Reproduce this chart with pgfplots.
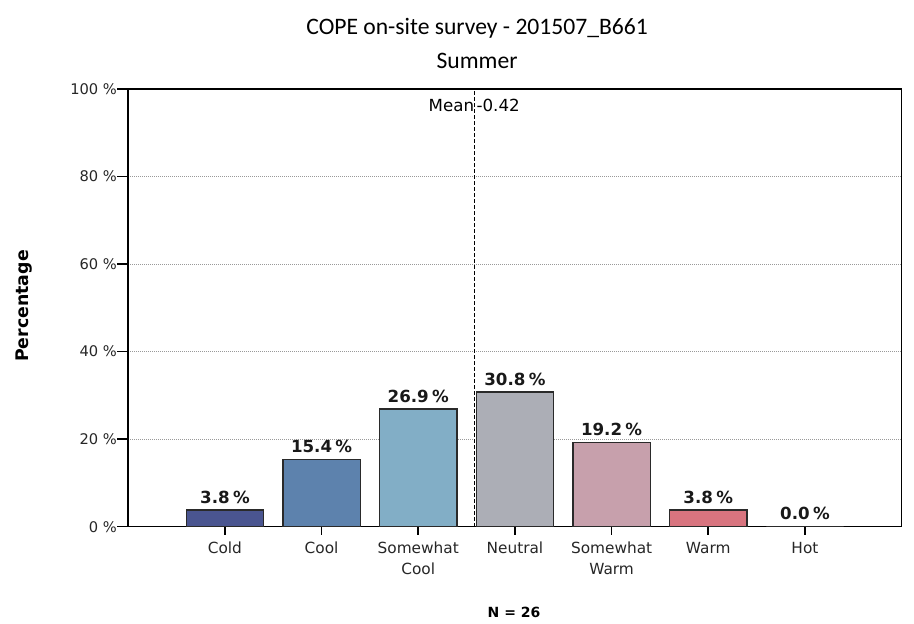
\documentclass[border=0pt]{standalone}
\usepackage{pgfplots}
\pgfplotsset{compat=1.18}
\usepackage{fontspec}
\setmainfont{DejaVu Sans}
\newfontfamily\titlefont{Carlito}
\definecolor{cCold}{HTML}{4A5590}
\definecolor{cCool}{HTML}{5D82AD}
\definecolor{cSCool}{HTML}{82AEC6}
\definecolor{cNeutral}{HTML}{ACAEB6}
\definecolor{cSWarm}{HTML}{C7A0AC}
\definecolor{cWarm}{HTML}{D8747F}
\definecolor{cHot}{HTML}{E06060}
\definecolor{edgecol}{HTML}{2A2A2A}
\begin{document}
\begin{tikzpicture}
\path[use as bounding box] (0,0) rectangle (685.5pt,468pt);
\pgfplotsset{
  valbar/.style={ybar, bar width=0.8, bar shift=0pt, fill=#1, draw=edgecol, line width=1.1pt,
    nodes near coords={\pgfmathprintnumber[fixed,fixed zerofill,precision=1,assume math mode=true]{\pgfplotspointmeta}\hspace{0.2em}\%},
    every node near coord/.append style={font=\bfseries\fontsize{12.5}{14}\selectfont, anchor=base, yshift=5pt, text=black!90, inner sep=0pt}},
}
\begin{axis}[
  at={(96.2pt,73pt)}, anchor=south west,
  scale only axis, width=580pt, height=328.3pt,
  xmin=-4, xmax=4, ymin=0, ymax=100,
  /pgf/number format/assume math mode=true,
  axis line style={line width=1.2pt, black},
  xtick={-3,-2,-1,0,1,2,3},
  xticklabels={Cold, Cool, {Somewhat\\Cool}, Neutral, {Somewhat\\Warm}, Warm, Hot},
  xticklabel style={align=center, font=\fontsize{11.5}{15.5}\selectfont, text=black!85, yshift=-2pt},
  ytick={0,20,40,60,80,100},
  yticklabels={0 \%, 20 \%, 40 \%, 60 \%, 80 \%, 100 \%},
  yticklabel style={font=\fontsize{11}{13}\selectfont, text=black!85, xshift=1pt},
  tick align=outside,
  major tick length=6pt,
  ytick style={/pgfplots/major tick length=8.25pt},
  tick style={line width=1.2pt, black},
  xtick pos=bottom, ytick pos=left,
  ymajorgrids,
  grid style={dash pattern=on 0.75pt off 0.75pt, line width=0.75pt, gray!80},
  clip=false,
]
\addplot[valbar=cCold] coordinates {(-3,3.8)};
\addplot[valbar=cCool] coordinates {(-2,15.4)};
\addplot[valbar=cSCool] coordinates {(-1,26.9)};
\addplot[valbar=cNeutral] coordinates {(0,30.8)};
\addplot[valbar=cSWarm] coordinates {(1,19.2)};
\addplot[valbar=cWarm] coordinates {(2,3.8)};
\addplot[valbar=cHot] coordinates {(3,0.0)};
\addplot[black, line width=1.1pt, dash pattern=on 3pt off 1.5pt, no marks] coordinates {(-0.42,0) (-0.42,100)};
\node[anchor=east, font=\fontsize{12.5}{14}\selectfont, inner sep=0pt] at (axis cs:-0.42,96.3) {Mean\hspace{4.5pt}};
\node[anchor=west, font=\fontsize{12.5}{14}\selectfont, inner sep=0pt] at (axis cs:-0.42,96.3) {\hspace{1.5pt}-0.42};
\end{axis}
\node[anchor=base, font=\titlefont\fontsize{17.7}{20}\selectfont] at (357.8pt,441.75pt) {COPE on-site survey - 201507\_B661};
\node[anchor=base, font=\titlefont\fontsize{17.7}{20}\selectfont] at (357.8pt,416.25pt) {Summer};
\node[rotate=90, font=\bfseries\fontsize{13}{15}\selectfont] at (18pt,238.5pt) {Percentage};
\node[font=\bfseries\fontsize{10.5}{12}\selectfont] at (385.5pt,9pt) {N = 26};
\end{tikzpicture}
\end{document}
